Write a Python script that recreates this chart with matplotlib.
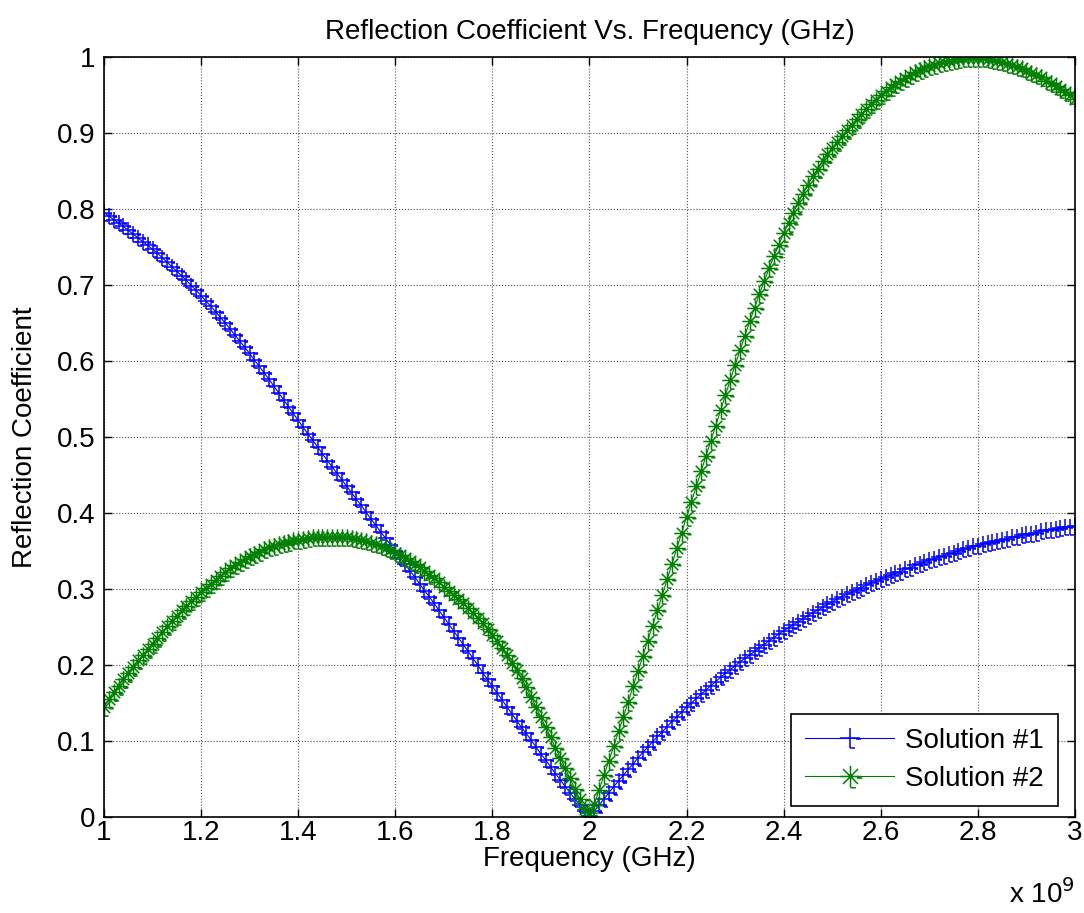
import numpy as np
import matplotlib
matplotlib.use("Agg")
import matplotlib.pyplot as plt
from matplotlib.path import Path

plt.rcParams['font.family'] = ['Liberation Sans', 'DejaVu Sans']

# frequency in GHz, 0.01 GHz steps (201 samples)
freq_ghz = np.round(np.linspace(1.0, 3.0, 201), 2)

# Solution #1
sol1 = [0.795, 0.791, 0.786, 0.782, 0.777, 0.772, 0.767, 0.762, 0.757, 0.752,
        0.747, 0.742, 0.736, 0.730, 0.724, 0.718, 0.712, 0.706, 0.699, 0.693,
        0.686, 0.679, 0.672, 0.665, 0.657, 0.650, 0.642, 0.634, 0.626, 0.618,
        0.610, 0.601, 0.593, 0.584, 0.576, 0.567, 0.558, 0.549, 0.540, 0.531,
        0.522, 0.513, 0.504, 0.496, 0.487, 0.478, 0.469, 0.461, 0.452, 0.444,
        0.435, 0.427, 0.418, 0.410, 0.401, 0.392, 0.384, 0.375, 0.367, 0.358,
        0.350, 0.341, 0.333, 0.324, 0.316, 0.307, 0.298, 0.290, 0.281, 0.272,
        0.263, 0.254, 0.245, 0.236, 0.227, 0.218, 0.209, 0.200, 0.190, 0.181,
        0.172, 0.163, 0.154, 0.145, 0.136, 0.127, 0.118, 0.110, 0.101, 0.092,
        0.083, 0.075, 0.066, 0.057, 0.049, 0.040, 0.032, 0.024, 0.016, 0.008,
        0.002, 0.008, 0.016, 0.024, 0.032, 0.040, 0.048, 0.055, 0.063, 0.070,
        0.078, 0.085, 0.092, 0.099, 0.106, 0.112, 0.119, 0.126, 0.132, 0.138,
        0.145, 0.150, 0.156, 0.162, 0.167, 0.173, 0.178, 0.184, 0.189, 0.194,
        0.199, 0.204, 0.209, 0.213, 0.218, 0.223, 0.227, 0.232, 0.236, 0.241,
        0.245, 0.249, 0.253, 0.257, 0.261, 0.265, 0.269, 0.272, 0.276, 0.280,
        0.283, 0.287, 0.290, 0.293, 0.296, 0.299, 0.302, 0.305, 0.308, 0.310,
        0.313, 0.316, 0.318, 0.321, 0.323, 0.326, 0.328, 0.331, 0.333, 0.336,
        0.338, 0.340, 0.342, 0.344, 0.346, 0.348, 0.350, 0.352, 0.354, 0.356,
        0.357, 0.359, 0.360, 0.362, 0.363, 0.365, 0.366, 0.368, 0.369, 0.371,
        0.372, 0.373, 0.374, 0.376, 0.377, 0.378, 0.379, 0.380, 0.381, 0.382,
        0.383]

# Solution #2
sol2 = [0.145, 0.155, 0.164, 0.173, 0.182, 0.190, 0.198, 0.206, 0.213, 0.221,
        0.228, 0.236, 0.243, 0.251, 0.258, 0.265, 0.272, 0.278, 0.284, 0.290,
        0.296, 0.302, 0.307, 0.312, 0.317, 0.322, 0.327, 0.331, 0.335, 0.339,
        0.343, 0.346, 0.349, 0.352, 0.355, 0.357, 0.359, 0.361, 0.362, 0.364,
        0.365, 0.366, 0.367, 0.368, 0.369, 0.369, 0.369, 0.369, 0.369, 0.369,
        0.368, 0.367, 0.366, 0.365, 0.363, 0.361, 0.359, 0.357, 0.354, 0.351,
        0.348, 0.345, 0.341, 0.337, 0.333, 0.329, 0.324, 0.319, 0.314, 0.309,
        0.303, 0.298, 0.292, 0.287, 0.281, 0.275, 0.268, 0.262, 0.255, 0.248,
        0.240, 0.231, 0.222, 0.213, 0.203, 0.193, 0.183, 0.171, 0.158, 0.145,
        0.131, 0.118, 0.105, 0.091, 0.078, 0.064, 0.051, 0.037, 0.024, 0.011,
        0.003, 0.017, 0.036, 0.055, 0.074, 0.093, 0.113, 0.132, 0.152, 0.172,
        0.192, 0.212, 0.232, 0.252, 0.272, 0.292, 0.313, 0.333, 0.354, 0.374,
        0.395, 0.415, 0.435, 0.455, 0.475, 0.495, 0.515, 0.535, 0.555, 0.575,
        0.595, 0.614, 0.633, 0.652, 0.670, 0.688, 0.705, 0.722, 0.738, 0.753,
        0.768, 0.782, 0.795, 0.808, 0.820, 0.832, 0.843, 0.853, 0.863, 0.872,
        0.880, 0.888, 0.896, 0.904, 0.911, 0.918, 0.925, 0.932, 0.938, 0.944,
        0.950, 0.955, 0.960, 0.964, 0.968, 0.972, 0.976, 0.980, 0.983, 0.986,
        0.988, 0.990, 0.992, 0.994, 0.995, 0.996, 0.997, 0.998, 0.998, 0.998,
        0.998, 0.998, 0.997, 0.996, 0.995, 0.993, 0.991, 0.989, 0.987, 0.985,
        0.982, 0.979, 0.976, 0.973, 0.969, 0.966, 0.962, 0.958, 0.954, 0.950,
        0.945]

xticks = [1, 1.2, 1.4, 1.6, 1.8, 2, 2.2, 2.4, 2.6, 2.8, 3]
xtick_labels = ['1', '1.2', '1.4', '1.6', '1.8', '2', '2.2', '2.4', '2.6', '2.8', '3']
yticks = [0, 0.1, 0.2, 0.3, 0.4, 0.5, 0.6, 0.7, 0.8, 0.9, 1]
ytick_labels = ['0', '0.1', '0.2', '0.3', '0.4', '0.5', '0.6', '0.7', '0.8', '0.9', '1']


def glitch_marker(star=False):
    # MATLAB-style marker with the little stray dashes at the lower right
    verts = [(-1, 0), (1, 0), (0, -1), (0, 1)]
    codes = [Path.MOVETO, Path.LINETO, Path.MOVETO, Path.LINETO]
    if star:
        verts += [(-0.7, -0.7), (0.7, 0.7), (-0.7, 0.7), (0.7, -0.7)]
        codes += [Path.MOVETO, Path.LINETO, Path.MOVETO, Path.LINETO]
    verts += [(0.6, -0.15), (1.1, -0.15), (0.0, -1.05), (0.5, -1.05)]
    codes += [Path.MOVETO, Path.LINETO, Path.MOVETO, Path.LINETO]
    return Path(verts, codes)


fig = plt.figure(figsize=(10.84, 9.13), dpi=100)
ax = fig.add_axes([0.0959, 0.1051, 0.8958, 0.8325])

ax.plot(freq_ghz, sol1, color=(0, 0, 1), lw=0.8, marker=glitch_marker(),
        markersize=12, markeredgewidth=1.1, label='Solution #1')
ax.plot(freq_ghz, sol2, color=(0, 0.5, 0), lw=0.8, marker=glitch_marker(True),
        markersize=13, markeredgewidth=1.1, label='Solution #2')

ax.set_xlim(1, 3)
ax.set_ylim(0, 1)
ax.set_xticks(xticks)
ax.set_xticklabels(xtick_labels)
ax.set_yticks(yticks)
ax.set_yticklabels(ytick_labels)
ax.tick_params(direction='in', top=True, right=True, labelsize=20,
               length=6, width=1)
ax.tick_params(axis='x', pad=2)
ax.tick_params(axis='y', pad=6)
ax.grid(True, color='#555555', linestyle=':', linewidth=0.8)
for s in ax.spines.values():
    s.set_linewidth(1.2)

ax.set_title('Reflection Coefficient Vs. Frequency (GHz)', fontsize=20, pad=13)
ax.set_xlabel('Frequency (GHz)', fontsize=20, labelpad=0)
ax.set_ylabel('Reflection Coefficient', fontsize=20, labelpad=14)
ax.text(1.0, -0.082, r'x 10$^{9}$', transform=ax.transAxes, fontsize=20,
        ha='right', va='top')

leg = ax.legend(loc='lower right', bbox_to_anchor=(0.9825, 0.0145),
                borderaxespad=0, fontsize=20, fancybox=False,
                edgecolor='black', framealpha=1, handlelength=3.2,
                borderpad=0.5, labelspacing=0.45, handletextpad=0.4,
                markerscale=1.3)
leg.get_frame().set_linewidth(1.2)

fig.savefig('out.png', dpi=100)
